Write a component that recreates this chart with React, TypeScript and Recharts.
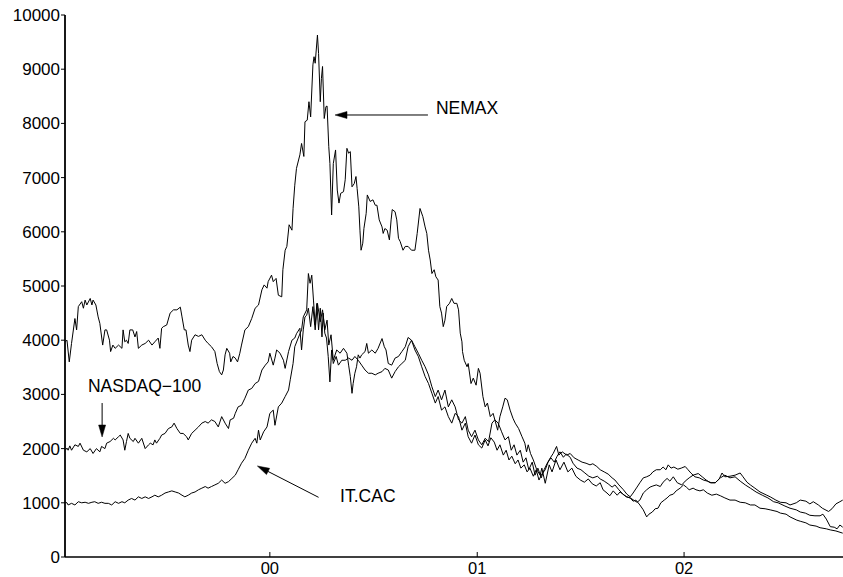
import React from 'react';
import { LineChart, Line, XAxis, YAxis, ReferenceLine, ReferenceDot } from 'recharts';

// Time axis: days since 1 Jan 1999
const nemaxDays = [4,7,11,15,21,24,27,33,36,39,42,48,51,53,58,62,65,70,74,77,82,84,88,92,98,104,106,109,112,115,118,123,127,130,133,139,145,151,157,162,168,171,174,177,183,189,195,201,207,210,214,217,221,224,227,233,239,245,251,256,262,268,272,276,280,283,286,289,294,296,300,304,308,312,315,321,327,333,339,345,351,355,360,362,368,371,376,380,386,388,392,395,399,404,406,409,412,418,421,425,427,431,434,437,441,443,445,449,451,454,456,458,461,464,466,469,471,474,477,481,484,487,490,495,498,501,504,507,510,514,517,519,522,524,526,529,531,535,537,542,547,551,554,558,563,565,568,572,576,579,581,586,589,592,595,600,604,609,615,621,625,630,635,639,642,645,648,651,655,658,662,665,668,671,674,677,682,686,690,695,698,701,704,705,708,713,715,720,724,729,733,736,741,745,749,754,759,767,771,776,780,784,789,794,798,804,810,815,818,821,825,830,836,842,845,851,858,863,870,877,884,891,898,905,913,920,927,934,941,948,953,960,965,971,978,983,988,994,1001,1006,1011,1018,1024,1030,1034,1040,1045,1050,1055,1061,1066,1071,1077,1082,1089,1095,1100,1105,1112,1117,1124,1130,1137,1145,1153,1160,1168,1177,1186,1195,1204,1213,1221,1230,1239,1248,1260,1266,1276,1283,1295,1301,1311,1318,1329,1336,1347,1354,1364,1376];
const nemaxValues = [3970,4000,3600,3940,4400,4190,4620,4710,4590,4740,4650,4770,4650,4740,4650,4430,4310,3910,4190,4190,4000,3790,3910,3850,3910,3850,4190,3970,4000,3940,4190,4190,4060,4160,3850,3910,3940,4000,3910,3970,4040,3850,4220,4250,4280,4500,4560,4560,4610,4430,4190,4190,3910,3790,4000,4100,4070,4100,4000,3940,3880,3790,3570,3420,3360,3450,3730,3850,3760,3600,3700,3670,3600,3760,3910,4190,4250,4400,4590,4650,4930,5020,4960,5080,5200,5080,5140,4830,4800,5300,5660,5730,6130,6030,6430,6860,7170,7420,7630,7390,8030,8060,8400,8120,9080,9230,9110,9630,9290,8400,8830,9050,8090,8310,8320,7570,7260,6310,7260,7510,6770,6530,6710,6740,6960,7540,7450,7480,6830,6890,7020,6800,6460,6030,5660,5790,6060,6340,6680,6560,6590,6490,6490,6220,6090,5970,6060,6030,5850,6220,6410,6370,6220,5880,5820,5660,5730,5730,5660,5660,5970,6430,6280,6090,5970,5660,5480,5230,5300,5170,5110,4620,4500,4250,4370,4620,4680,4770,4680,4680,4560,4130,3970,3790,3630,3510,3570,3200,3300,3170,3480,3390,2960,2770,2840,2590,2650,2340,2590,2770,2930,2900,2710,2560,2470,2370,2220,2100,1940,2070,1910,1790,1610,1510,1640,1360,1700,1570,1790,1610,1750,1570,1640,1490,1420,1380,1440,1350,1310,1370,1240,1180,1130,1220,1140,1200,1160,1110,1090,1030,1050,960,870,740,790,830,890,900,1000,1050,1090,1140,1160,1220,1270,1330,1290,1240,1270,1240,1220,1240,1180,1140,1160,1130,1090,1050,1050,1010,1000,960,960,900,890,870,840,810,790,740,680,660,630,590,570,540,520,500,480,440];

const nasdaqDays = [4,7,9,12,15,21,27,30,36,42,48,53,59,65,68,74,77,83,89,92,98,101,106,109,112,115,118,124,127,133,139,145,151,154,159,162,165,171,174,180,186,192,196,201,207,212,218,221,227,233,239,245,251,256,262,268,274,280,286,292,295,301,304,309,315,321,327,333,339,345,351,357,362,365,371,374,377,383,389,392,398,404,409,412,418,421,424,427,430,433,437,441,445,449,454,458,462,466,469,473,477,483,489,495,501,504,507,510,512,515,518,521,524,527,533,536,539,545,551,556,563,567,570,574,580,586,592,598,604,609,615,621,627,633,639,645,651,657,662,668,674,680,686,692,698,704,710,715,721,727,733,739,745,751,757,762,768,774,780,786,791,796,801,807,812,817,822,828,833,838,844,849,854,860,865,871,875,881,889,895,902,909,916,923,930,935,942,948,955,962,969,974,981,989,995,1001,1006,1013,1018,1024,1030,1036,1041,1047,1054,1059,1064,1068,1073,1078,1085,1091,1098,1103,1108,1115,1123,1130,1137,1144,1151,1158,1163,1168,1177,1186,1195,1200,1207,1213,1221,1230,1242,1248,1258,1266,1276,1283,1294,1301,1311,1318,1324,1333,1340,1351,1357,1364,1371,1376];
const nasdaqValues = [1970,2010,1970,2050,1970,2070,2040,2100,1970,1940,2000,1910,2000,1940,2040,2000,2100,2130,2190,2160,2220,2250,2160,1970,2130,2280,2190,2130,2190,2100,2190,2000,2070,2100,2070,2160,2100,2190,2250,2280,2370,2400,2470,2370,2280,2280,2220,2160,2280,2340,2400,2470,2500,2470,2530,2500,2400,2590,2470,2370,2530,2560,2650,2770,2800,2930,3080,3110,3200,3240,3450,3540,3600,3760,3540,3670,3820,3760,3630,3480,3790,4000,4040,4120,4220,3820,4190,4430,4460,4590,4250,4620,4190,4680,4340,4560,4190,4370,3910,4100,3630,3820,3760,3850,3760,3540,3330,3020,3200,3390,3510,3730,3670,3730,3790,3940,3760,3820,3760,3850,4030,3880,3820,3570,3540,3670,3700,3790,3880,4050,4000,3880,3760,3630,3510,3360,3140,2960,3080,2900,3080,2770,2900,2770,2530,2470,2590,2340,2220,2340,2160,2070,2190,2130,2470,2530,2470,2310,2160,2220,1970,2070,1880,1970,1750,1830,1610,1750,1510,1640,1460,1610,1720,1830,1910,2040,1880,1940,1880,1910,1830,1790,1750,1730,1700,1720,1670,1610,1570,1530,1460,1420,1330,1240,1160,1110,1180,1290,1370,1460,1480,1510,1570,1610,1610,1660,1610,1700,1640,1660,1620,1640,1670,1610,1550,1480,1460,1420,1400,1370,1370,1440,1550,1480,1490,1510,1550,1480,1380,1330,1270,1200,1140,1110,1050,1010,1000,960,1000,1050,1030,980,1020,960,900,840,890,980,1020,1050];

const itcacDays = [4,7,9,15,21,27,33,39,45,51,56,62,68,74,80,86,92,98,104,109,115,121,127,133,139,145,151,157,162,168,174,180,186,192,198,204,210,215,221,227,233,239,245,251,256,262,268,274,280,286,292,298,304,309,315,321,327,333,339,342,345,348,354,360,365,371,374,380,386,392,398,401,406,409,415,421,424,430,433,436,439,442,445,448,451,454,457,459,462,465,468,471,474,477,482,486,492,498,504,510,515,521,527,533,539,545,551,556,563,568,574,580,586,592,598,604,609,615,621,627,633,639,645,651,657,662,668,674,680,686,692,698,704,710,715,721,727,733,739,745,750,755,761,766,771,777,782,787,792,798,803,808,814,819,824,830,835,840,845,851,856,861,867,872,877,883,888,895,900,907,914,921,928,935,943,948,955,962,969,974,981,988,995,1001,1007,1013,1018,1024,1030,1036,1041,1047,1054,1059,1066,1071,1077,1084,1092,1098,1105,1112,1121,1128,1135,1142,1151,1160,1168,1177,1186,1195,1204,1213,1223,1234,1244,1254,1262,1274,1283,1294,1301,1310,1318,1327,1336,1341,1347,1354,1361,1366,1371,1376];
const itcacValues = [1010,1000,960,990,960,1020,1000,1010,990,1010,1020,990,1010,990,990,960,1020,990,1020,1000,1050,1080,1050,1110,1080,1110,1080,1110,1140,1110,1140,1180,1200,1220,1200,1180,1140,1110,1140,1180,1200,1240,1270,1300,1270,1300,1330,1360,1420,1360,1390,1450,1510,1610,1730,1820,1970,2100,2190,2100,2340,2160,2310,2400,2650,2710,2430,2770,2840,2960,3080,3270,3570,3880,4040,4190,4430,4560,5230,5050,5200,4740,4280,4680,4190,4590,4060,4500,4130,4040,3700,3230,3820,3570,3700,3540,3630,3630,3670,3630,3700,3630,3540,3450,3390,3390,3360,3390,3420,3480,3450,3300,3420,3510,3570,3630,3880,4000,3820,3700,3510,3330,3200,3020,2840,2960,2710,2770,2590,2470,2650,2590,2340,2470,2220,2100,2250,2070,2010,2160,2050,2200,2120,1970,2070,1880,1970,1790,1860,1720,1790,1640,1700,1570,1640,1490,1610,1420,1530,1610,1750,1830,1750,1860,1940,1840,1900,1840,1730,1640,1610,1550,1490,1460,1490,1440,1400,1350,1290,1330,1240,1160,1110,1090,1050,1010,1050,1180,1240,1290,1310,1330,1300,1380,1450,1400,1480,1370,1330,1400,1460,1510,1540,1480,1420,1370,1370,1460,1510,1460,1480,1400,1330,1270,1200,1140,1090,1020,1000,940,900,870,830,810,770,760,760,790,700,560,550,520,590,550];

const xTickDays = [365, 731, 1096];
const xTickLabels = ['00', '01', '02'];
const yTicks = [0, 1000, 2000, 3000, 4000, 5000, 6000, 7000, 8000, 9000, 10000];

// Annotations (data units: day, value)
const labelTexts = ['NEMAX', 'NASDAQ\u2212100', 'IT.CAC'];
const labelDays = [658, 44, 489];
const labelValues = [8173, 3053, 1006];
const arrowFromDays = [644, 69, 451];
const arrowFromValues = [8155, 2841, 1101];
const arrowToDays = [480, 69, 343];
const arrowToValues = [8155, 2214, 1679];

const FONT = '"Liberation Sans", Arial, Helvetica, sans-serif';

const toPoints = (days: number[], values: number[]) => days.map((d, i) => ({ d, v: values[i] }));
const nemaxData = toPoints(nemaxDays, nemaxValues);
const nasdaqData = toPoints(nasdaqDays, nasdaqValues);
const itcacData = toPoints(itcacDays, itcacValues);

const BottomTick = (props: any) => {
  const { x, y, payload } = props;
  const idx = xTickDays.indexOf(payload.value);
  return (
    <g>
      <line x1={x} y1={y} x2={x} y2={y - 5} stroke="#000" strokeWidth={1} />
      <text x={x} y={y + 17} textAnchor="middle" fontSize={16.5} fontFamily={FONT} fill="#000">
        {idx >= 0 ? xTickLabels[idx] : ''}
      </text>
    </g>
  );
};

const TopTick = (props: any) => {
  const { x, y } = props;
  return <line x1={x} y1={y} x2={x} y2={y + 5} stroke="#000" strokeWidth={1} />;
};

const LeftTick = (props: any) => {
  const { x, y, payload } = props;
  return (
    <g>
      <line x1={x - 4} y1={y} x2={x} y2={y} stroke="#000" strokeWidth={1} />
      <text x={x - 5} y={y + 6} textAnchor="end" fontSize={17} fontFamily={FONT} fill="#000">
        {String(payload.value)}
      </text>
    </g>
  );
};

const RightTick = (props: any) => {
  const { x, y } = props;
  return <line x1={x} y1={y} x2={x - 5} y2={y} stroke="#000" strokeWidth={1} />;
};

const ArrowShape = (props: any) => {
  const { x1, y1, x2, y2 } = props;
  const dx = x2 - x1;
  const dy = y2 - y1;
  const len = Math.sqrt(dx * dx + dy * dy) || 1;
  const ux = dx / len;
  const uy = dy / len;
  const head = 12;
  const half = 3.5;
  const bx = x2 - ux * head;
  const by = y2 - uy * head;
  const px = -uy * half;
  const py = ux * half;
  return (
    <g>
      <line x1={x1} y1={y1} x2={bx} y2={by} stroke="#000" strokeWidth={1} />
      <polygon points={`${x2},${y2} ${bx + px},${by + py} ${bx - px},${by - py}`} fill="#000" stroke="#000" strokeWidth={0.5} />
    </g>
  );
};

export default function App() {
  return (
    <div style={{ position: 'absolute', left: 0, top: 0, width: 843, height: 577, overflow: 'hidden', background: '#fff' }}>
      <LineChart width={846} height={577} margin={{ top: 15, right: 1, bottom: 0, left: 0 }}>
        <XAxis
          xAxisId={0}
          dataKey="d"
          type="number"
          domain={[3.5, 1380]}
          allowDataOverflow
          ticks={xTickDays}
          interval={0}
          height={20}
          tickSize={0}
          tickMargin={0}
          tickLine={false}
          axisLine={{ stroke: '#000', strokeWidth: 1.6 }}
          tick={<BottomTick />}
        />
        <XAxis
          xAxisId="top"
          orientation="top"
          dataKey="d"
          type="number"
          domain={[3.5, 1380]}
          allowDataOverflow
          ticks={xTickDays}
          interval={0}
          height={0}
          tickSize={0}
          tickMargin={0}
          tickLine={false}
          axisLine={{ stroke: '#000', strokeWidth: 1.6 }}
          tick={<TopTick />}
        />
        <YAxis
          yAxisId={0}
          type="number"
          domain={[0, 10000]}
          allowDataOverflow
          ticks={yTicks}
          interval={0}
          width={65}
          tickSize={0}
          tickMargin={0}
          tickLine={false}
          axisLine={{ stroke: '#000', strokeWidth: 1.8 }}
          tick={<LeftTick />}
        />
        <YAxis
          yAxisId="right"
          orientation="right"
          type="number"
          domain={[0, 10000]}
          allowDataOverflow
          ticks={yTicks}
          interval={0}
          width={0}
          tickSize={0}
          tickMargin={0}
          tickLine={false}
          axisLine={{ stroke: '#000', strokeWidth: 1.6 }}
          tick={<RightTick />}
        />
        <Line data={nemaxData} dataKey="v" type="linear" stroke="#000" strokeWidth={1} dot={false} activeDot={false} isAnimationActive={false} />
        <Line data={nasdaqData} dataKey="v" type="linear" stroke="#000" strokeWidth={1} dot={false} activeDot={false} isAnimationActive={false} />
        <Line data={itcacData} dataKey="v" type="linear" stroke="#000" strokeWidth={1} dot={false} activeDot={false} isAnimationActive={false} />
        {labelTexts.map((_, i) => (
          <ReferenceLine
            key={`arrow-${i}`}
            segment={[
              { x: arrowFromDays[i], y: arrowFromValues[i] },
              { x: arrowToDays[i], y: arrowToValues[i] },
            ]}
            stroke="#000"
            ifOverflow="visible"
            shape={ArrowShape}
          />
        ))}
        {labelTexts.map((t, i) => (
          <ReferenceDot
            key={`label-${i}`}
            x={labelDays[i]}
            y={labelValues[i]}
            r={0}
            ifOverflow="visible"
            shape={(p: any) => (
              <text x={p.cx} y={p.cy} fontSize={17.5} fontFamily={FONT} fill="#000" textAnchor="start">
                {t}
              </text>
            )}
          />
        ))}
      </LineChart>
    </div>
  );
}
